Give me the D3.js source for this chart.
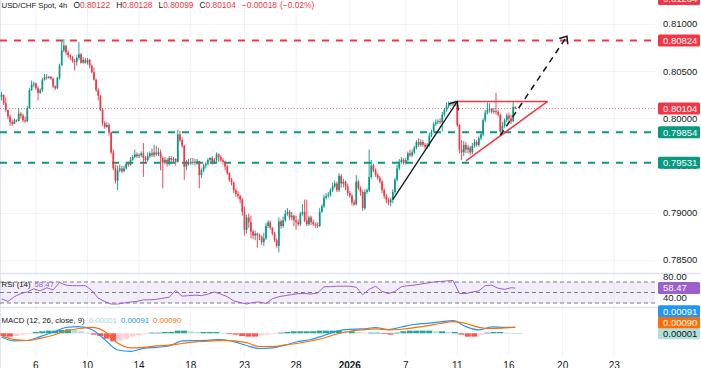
<!DOCTYPE html>
<html>
<head>
<meta charset="utf-8">
<script src="https://cdn.jsdelivr.net/npm/d3@7"></script>
<style>
  body { margin: 0; background: #fff; overflow: hidden; }
  text { font-family: "Liberation Sans", Arial, sans-serif; }
</style>
</head>
<body>
<div id="chart"></div>
<script>
// USD/CHF 4h candles with RSI and MACD panes

// ---- data ----
var firstOpen = 0.8023;
var closes = [
  .8025,.8016,.8009,.8002,.7996,.7994,.7998,.7997,.8005,.8003,
  .7998,.7997,.8011,.8030,.8036,.8037,.8032,.8027,.8030,.8041,
  .8044,.8043,.8044,.8042,.8034,.8032,.8043,.8056,.8072,.8077,
  .8070,.8067,.8065,.8061,.8060,.8064,.8068,.8059,.8062,.8059,
  .8062,.8056,.8049,.8041,.8030,.8024,.8009,.7995,.7991,.7993,
  .7985,.7964,.7947,.7934,.7945,.7947,.7944,.7947,.7952,.7951,
  .7956,.7959,.7962,.7960,.7961,.7963,.7958,.7956,.7960,.7963,
  .7961,.7964,.7962,.7964,.7958,.7953,.7956,.7952,.7958,.7956,
  .7957,.7954,.7983,.7977,.7971,.7949,.7953,.7952,.7954,.7953,
  .7954,.7955,.7940,.7945,.7950,.7952,.7956,.7958,.7953,.7956,
  .7962,.7959,.7956,.7954,.7949,.7942,.7935,.7932,.7924,.7920,
  .7918,.7914,.7901,.7882,.7895,.7890,.7880,.7876,.7878,.7876,
  .7875,.7869,.7873,.7886,.7890,.7884,.7878,.7871,.7865,.7891,
  .7886,.7892,.7899,.7901,.7895,.7897,.7892,.7890,.7888,.7899,
  .7901,.7892,.7888,.7895,.7890,.7888,.7887,.7886,.7901,.7907,
  .7916,.7918,.7919,.7924,.7928,.7931,.7924,.7939,.7931,.7933,
  .7928,.7921,.7918,.7911,.7909,.7933,.7926,.7922,.7905,.7922,
  .7924,.7938,.7950,.7945,.7940,.7937,.7933,.7924,.7918,.7914,
  .7911,.7914,.7922,.7935,.7947,.7954,.7956,.7953,.7956,.7963,
  .7961,.7964,.7969,.7975,.7972,.7975,.7972,.7970,.7972,.7982,
  .7986,.7994,.7996,.7997,.7996,.8004,.8009,.8013,.8015,.8016,
  .8015,.8016,.7993,.7967,.7964,.7972,.7967,.7969,.7964,.7971,
  .7975,.7972,.7979,.7983,.7998,.8006,.8009,.8010,.8007,.8008,
  .8007,.8004,.7986,.7992,.7998,.8003,.8000,.7997,.80122,.80104
];
var highs = [
  .8028,.8025,.8022,.8009,.8004,.7999,.8000,.7999,.8010,.8007,
  .8005,.8002,.8013,.8032,.8040,.8039,.8038,.8034,.8032,.8043,
  .8047,.8047,.8045,.8045,.8043,.8035,.8044,.8058,.8083,.8084,
  .8078,.8072,.8068,.8066,.8063,.8067,.8081,.8069,.8065,.8064,
  .8064,.8063,.8057,.8054,.8042,.8032,.8025,.8011,.7997,.7996,
  .7995,.7986,.7967,.7951,.7950,.7951,.7950,.7950,.7954,.7954,
  .7959,.7961,.7967,.7964,.7963,.7965,.7974,.7960,.7964,.7965,
  .7968,.7972,.7971,.7969,.7967,.7960,.7959,.7958,.7960,.7960,
  .7959,.7958,.7988,.7987,.7980,.7972,.7956,.7957,.7958,.7958,
  .7957,.7957,.7955,.7947,.7952,.7954,.7958,.7959,.7960,.7958,
  .7964,.7963,.7961,.7958,.7955,.7951,.7943,.7937,.7933,.7926,
  .7923,.7919,.7916,.7907,.7898,.7899,.7897,.7882,.7881,.7879,
  .7878,.7876,.7879,.7889,.7892,.7892,.7885,.7880,.7873,.7895,
  .7893,.7896,.7903,.7905,.7903,.7901,.7898,.7897,.7893,.7901,
  .7909,.7914,.7914,.7897,.7897,.7893,.7890,.7890,.7905,.7909,
  .7919,.7921,.7922,.7926,.7932,.7934,.7933,.7942,.7941,.7936,
  .7934,.7931,.7923,.7920,.7914,.7940,.7935,.7928,.7924,.7925,
  .7926,.7967,.7956,.7952,.7947,.7942,.7939,.7935,.7926,.7920,
  .7916,.7916,.7925,.7937,.7951,.7957,.7959,.7958,.7958,.7965,
  .7967,.7967,.7971,.7977,.7979,.7978,.7977,.7974,.7974,.7985,
  .7988,.7996,.7999,.7999,.8000,.8007,.8011,.8017,.8018,.8018,
  .8018,.8019,.8018,.7994,.7977,.7976,.7975,.7972,.7971,.7974,
  .7978,.7977,.7981,.7986,.8000,.8009,.8017,.8016,.8011,.8011,
  .8027,.8009,.8005,.7996,.8000,.8005,.8006,.8004,.8017,.80128
];
var lows = [
  .8019,.8014,.8007,.7999,.7992,.7992,.7994,.7996,.7997,.8000,
  .7996,.7995,.7996,.8010,.8029,.8033,.8030,.8019,.8026,.8028,
  .8040,.8041,.8042,.8041,.8032,.8030,.8031,.8041,.8056,.8070,
  .8067,.8064,.8062,.8059,.8051,.8056,.8062,.8058,.8058,.8058,
  .8057,.8053,.8048,.8040,.8028,.8019,.8008,.7992,.7989,.7990,
  .7982,.7962,.7945,.7931,.7924,.7943,.7942,.7943,.7946,.7949,
  .7950,.7955,.7958,.7958,.7958,.7959,.7938,.7952,.7954,.7958,
  .7959,.7959,.7960,.7960,.7945,.7926,.7951,.7949,.7950,.7954,
  .7953,.7950,.7953,.7975,.7969,.7935,.7945,.7950,.7951,.7951,
  .7950,.7951,.7926,.7937,.7943,.7947,.7950,.7954,.7951,.7952,
  .7953,.7954,.7954,.7951,.7945,.7940,.7933,.7929,.7921,.7917,
  .7915,.7910,.7897,.7876,.7878,.7884,.7873,.7872,.7871,.7863,
  .7871,.7866,.7865,.7871,.7884,.7882,.7876,.7869,.7863,.7858,
  .7883,.7884,.7890,.7897,.7892,.7892,.7886,.7882,.7886,.7886,
  .7897,.7890,.7886,.7886,.7887,.7886,.7884,.7884,.7885,.7900,
  .7905,.7914,.7916,.7917,.7922,.7926,.7922,.7922,.7926,.7927,
  .7924,.7918,.7916,.7908,.7907,.7908,.7924,.7918,.7902,.7903,
  .7920,.7922,.7936,.7943,.7938,.7935,.7931,.7921,.7915,.7910,
  .7908,.7907,.7910,.7920,.7933,.7945,.7952,.7951,.7951,.7954,
  .7959,.7959,.7962,.7967,.7970,.7970,.7970,.7968,.7968,.7970,
  .7980,.7985,.7992,.7994,.7994,.7986,.8002,.8007,.8011,.8013,
  .8013,.8013,.7991,.7963,.7956,.7960,.7963,.7963,.7961,.7962,
  .7969,.7970,.7970,.7977,.7981,.7996,.8004,.8006,.8005,.8005,
  .8004,.8002,.7982,.7983,.7990,.7996,.7997,.7994,.7996,.80099
];

// RSI(14), one reading every 3 bars, last one on the final bar
var rsiStep = 3;
var rsi = [
  38,33,42,48,51,57,53,59,55,69, 64,63,63,63,54,39,33,28,28,30,
  32,33,36,36,37,39,41,54,43,44, 45,44,47,51,47,42,34,31,28,31,
  32,29,38,42,44,46,48,48,47,49, 61,61,62,62,62,60,46,56,62,52,
  48,52,61,63,64,66,68,70,71,72, 73,48,48,51,53,63,64,58,56,59, 58.47
];

// MACD(12,26,9), one reading every 6 bars, last one on the final bar
var macdStep = 6;
var macdLine = [
  -0.00055,-0.00115,-0.00108,-0.0005,0.00015,0.00087,0.0010,0.00057,-0.00093,-0.0025,
  -0.0027,-0.00225,-0.0021,-0.0019,-0.00115,-0.0011,-0.00105,-0.00093,-0.00126,-0.00183,
  -0.00228,-0.0022,-0.00175,-0.00123,-0.00093,-0.00033,0.00035,0.0006,0.00065,0.00087,
  0.00057,0.00095,0.00132,0.0015,0.0017,0.0019,0.0010,0.0005,0.00095,0.0009,0.00091
];
var signalLine = [
  -0.00033,-0.00096,-0.00108,-0.00075,-0.00029,0.00035,0.00072,0.00089,0.00027,-0.00146,
  -0.00218,-0.0021,-0.0019,-0.00176,-0.00153,-0.0013,-0.00119,-0.00105,-0.00113,-0.00141,
  -0.00198,-0.00198,-0.00175,-0.00149,-0.00115,-0.0007,-0.0001,0.00031,0.00052,0.00065,
  0.00052,0.00061,0.00085,0.00112,0.00147,0.00174,0.00147,0.0009,0.00072,0.0008,0.0009
];
// histogram, one reading every 3 bars
var histStep = 3;
var histogram = [
  -0.0004,-0.0005,-0.0004,-0.0002,-0.0001,0.0002,0.0003,0.0004,0.0004,0.0005,
  0.0006,0.0005,0.0003,0.0001,-0.0002,-0.0004,-0.0008,-0.0012,-0.0011,-0.0008,
  -0.0005,-0.0003,-0.0001,0.0001,0.0001,0.0002,0.0002,0.0004,0.0004,0.0003,
  0.0002,0.0002,0.0002,0.0002,0.0001,-0.0001,-0.0002,-0.0004,-0.0005,-0.0005,
  -0.0003,-0.0002,-0.0001,0.0001,0.0002,0.0003,0.0003,0.0003,0.0003,0.0004,
  0.0004,0.0004,0.0004,0.0003,0.0003,0.0002,0.0001,0.0001,0.0001,-0.0001,
  -0.0002,0.0001,0.0003,0.0004,0.0004,0.0004,0.0004,0.0003,0.0003,0.0002,
  0.0002,-0.0002,-0.0005,-0.0005,-0.0003,0.0001,0.0002,0.0002,0.0001,0.00005,0.00001
];

// x axis
var tickBars = [16, 40, 64, 88, 113, 137, 162, 188, 212, 236, 261, 285];
var tickLabels = ['6', '10', '14', '18', '23', '28', '2026', '7', '11', '16', '20', '23'];
var priceTicks = [0.785, 0.79, 0.795, 0.80, 0.805, 0.81];
var rsiTicks = [80, 40];

// horizontal levels
var resistanceLevels = [0.81264, 0.80824];
var supportLevels = [0.79854, 0.79531];
var lastPrice = 0.80104;

// drawings: [bar, price]
var trendArrow = [[182, 0.7914], [212, 0.8018]];
var projectionArrow = [[232, 0.7982], [263, 0.8087]];
var triangleTop = [[212, 0.8018], [254, 0.8018]];
var triangleBottom = [[216, 0.7955], [254, 0.8018]];

// ---- layout ----
var W = 701, H = 368;
var plotRight = 655;
var panes = {
  main: { top: 0, bottom: 273 },
  rsi: { top: 274, bottom: 307 },
  macd: { top: 308, bottom: 357 }
};
var UP = '#089981', DOWN = '#f23645';
var RSI_COLOR = '#9c5fd0';

var x = d3.scaleLinear().domain([0, 300]).range([1.5, 646.5]);
var y = d3.scaleLinear().domain([0.785, 0.81]).range([260, 24]);
var yRsi = d3.scaleLinear().domain([30, 70]).range([303, 282]);
var yMacd = d3.scaleLinear().domain([-0.003, 0.003]).range([353.3, 313.3]);

var svg = d3.select('#chart').append('svg')
  .attr('width', W)
  .attr('height', H);

var defs = svg.append('defs');
Object.keys(panes).forEach(function(k) {
  defs.append('clipPath').attr('id', 'clip-' + k)
    .append('rect')
      .attr('x', 0).attr('y', panes[k].top)
      .attr('width', plotRight).attr('height', panes[k].bottom - panes[k].top);
});

// grid
var grid = svg.append('g');
grid.selectAll('line.v')
  .data(tickBars).enter()
  .append('line')
    .attr('x1', function(d) { return x(d); })
    .attr('x2', function(d) { return x(d); })
    .attr('y1', 0).attr('y2', panes.macd.bottom)
    .attr('stroke', '#f0f3fa');
grid.selectAll('line.h')
  .data(priceTicks).enter()
  .append('line')
    .attr('x1', 0).attr('x2', plotRight)
    .attr('y1', function(d) { return Math.round(y(d)) + 0.5; })
    .attr('y2', function(d) { return Math.round(y(d)) + 0.5; })
    .attr('stroke', '#f0f3fa');

// pane separators and left border
[panes.main.bottom + 0.5, panes.rsi.bottom + 0.5].forEach(function(v) {
  svg.append('line')
    .attr('x1', 0).attr('x2', W).attr('y1', v).attr('y2', v)
    .attr('stroke', '#e0e3eb').attr('stroke-width', 1.5);
});
svg.append('line')
  .attr('x1', 0.5).attr('x2', 0.5).attr('y1', 0).attr('y2', H)
  .attr('stroke', '#dde6f2');

// ---- main pane ----
var main = svg.append('g').attr('clip-path', 'url(#clip-main)');

// level lines
main.selectAll('line.res')
  .data(resistanceLevels).enter()
  .append('line')
    .attr('x1', 0).attr('x2', plotRight)
    .attr('y1', function(d) { return y(d); })
    .attr('y2', function(d) { return y(d); })
    .attr('stroke', DOWN).attr('stroke-width', 2)
    .attr('stroke-dasharray', '7,7');
main.selectAll('line.sup')
  .data(supportLevels).enter()
  .append('line')
    .attr('x1', 0).attr('x2', plotRight)
    .attr('y1', function(d) { return y(d); })
    .attr('y2', function(d) { return y(d); })
    .attr('stroke', UP).attr('stroke-width', 2)
    .attr('stroke-dasharray', '7,7');
main.append('line')
  .attr('x1', 0).attr('x2', plotRight)
  .attr('y1', y(lastPrice)).attr('y2', y(lastPrice))
  .attr('stroke', DOWN).attr('stroke-width', 1)
  .attr('stroke-dasharray', '1,2').attr('opacity', 0.7);

// candles
var candles = closes.map(function(c, i) {
  return { i: i, o: i === 0 ? firstOpen : closes[i - 1], h: highs[i], l: lows[i], c: c };
});
var cg = main.selectAll('g.candle')
  .data(candles).enter()
  .append('g')
    .attr('fill', function(d) { return d.c >= d.o ? UP : DOWN; })
    .attr('stroke', function(d) { return d.c >= d.o ? UP : DOWN; });
cg.append('line')
  .attr('x1', function(d) { return x(d.i); })
  .attr('x2', function(d) { return x(d.i); })
  .attr('y1', function(d) { return y(Math.max(d.h, d.o, d.c)); })
  .attr('y2', function(d) { return y(Math.min(d.l, d.o, d.c)); })
  .attr('stroke-width', 0.9);
cg.append('rect')
  .attr('stroke', 'none')
  .attr('x', function(d) { return x(d.i) - 0.85; })
  .attr('width', 1.7)
  .attr('y', function(d) { return y(Math.max(d.o, d.c)); })
  .attr('height', function(d) { return Math.max(1, Math.abs(y(d.o) - y(d.c))); });

// drawings
function pt(p) { return [x(p[0]), y(p[1])]; }
function arrowHead(a, b, len) {
  var ang = Math.atan2(a[1] - b[1], a[0] - b[0]);
  var r = 40 * Math.PI / 180;
  return 'M' + (b[0] + len * Math.cos(ang + r)) + ',' + (b[1] + len * Math.sin(ang + r)) +
    'L' + b[0] + ',' + b[1] +
    'L' + (b[0] + len * Math.cos(ang - r)) + ',' + (b[1] + len * Math.sin(ang - r));
}
var line = d3.line();
[triangleTop, triangleBottom].forEach(function(seg) {
  main.append('path')
    .attr('d', line(seg.map(pt)))
    .attr('fill', 'none').attr('stroke', DOWN).attr('stroke-width', 1.5);
});
var ta = trendArrow.map(pt);
main.append('path').attr('d', line(ta))
  .attr('fill', 'none').attr('stroke', '#131722').attr('stroke-width', 1.3);
main.append('path').attr('d', arrowHead(ta[0], ta[1], 9))
  .attr('fill', 'none').attr('stroke', '#131722').attr('stroke-width', 1.3);
var pa = projectionArrow.map(pt);
main.append('path').attr('d', line(pa))
  .attr('fill', 'none').attr('stroke', '#131722').attr('stroke-width', 1.5)
  .attr('stroke-dasharray', '6,5');
main.append('path').attr('d', arrowHead(pa[0], pa[1], 8))
  .attr('fill', 'none').attr('stroke', '#131722').attr('stroke-width', 1.5);

// ---- RSI pane ----
var rsiG = svg.append('g').attr('clip-path', 'url(#clip-rsi)');
rsiG.append('rect')
  .attr('x', 0).attr('width', plotRight)
  .attr('y', yRsi(70)).attr('height', yRsi(30) - yRsi(70))
  .attr('fill', '#7e57c2').attr('fill-opacity', 0.1);
rsiG.selectAll('line.band')
  .data([70, 50, 30]).enter()
  .append('line')
    .attr('x1', 0).attr('x2', plotRight)
    .attr('y1', function(d) { return yRsi(d); })
    .attr('y2', function(d) { return yRsi(d); })
    .attr('stroke', '#787b86').attr('stroke-dasharray', '4,3');
rsiG.append('path')
  .datum(rsi)
  .attr('d', d3.line()
    .x(function(d, k) { return x(Math.min(k * rsiStep, closes.length - 1)); })
    .y(function(d) { return yRsi(d); }))
  .attr('fill', 'none').attr('stroke', RSI_COLOR).attr('stroke-width', 1);

// ---- MACD pane ----
var macdG = svg.append('g').attr('clip-path', 'url(#clip-macd)');
macdG.selectAll('rect.hist')
  .data(histogram).enter()
  .append('rect')
    .attr('x', function(d, k) { return x(k * histStep) - 1; })
    .attr('width', x(histStep) - x(0) - 0.5)
    .attr('y', function(d) { return Math.min(yMacd(d), yMacd(0)); })
    .attr('height', function(d) { return Math.max(0.8, Math.abs(yMacd(d) - yMacd(0))); })
    .attr('fill', function(d, k) {
      var prev = k > 0 ? histogram[k - 1] : d;
      if (d >= 0) return d >= prev ? '#26a69a' : '#b2dfdb';
      return d <= prev ? '#ff5252' : '#ffcdd2';
    });
var macdX = function(d, k) { return x(Math.min(k * macdStep, closes.length - 1)); };
macdG.append('path').datum(macdLine)
  .attr('d', d3.line().curve(d3.curveMonotoneX).x(macdX).y(function(d) { return yMacd(d); }))
  .attr('fill', 'none').attr('stroke', '#2196f3').attr('stroke-width', 1.2);
macdG.append('path').datum(signalLine)
  .attr('d', d3.line().curve(d3.curveMonotoneX).x(macdX).y(function(d) { return yMacd(d); }))
  .attr('fill', 'none').attr('stroke', '#ff6d00').attr('stroke-width', 1.2);

// ---- axes ----
svg.selectAll('text.date')
  .data(tickBars).enter()
  .append('text')
    .attr('x', function(d) { return x(d); })
    .attr('y', 368.5)
    .attr('text-anchor', 'middle')
    .attr('font-size', 10)
    .attr('font-weight', function(d, i) { return tickLabels[i] === '2026' ? 'bold' : 'normal'; })
    .attr('fill', '#131722')
    .text(function(d, i) { return tickLabels[i]; });

var axisG = svg.append('g');
axisG.selectAll('text.price')
  .data(priceTicks).enter()
  .append('text')
    .attr('x', 663)
    .attr('y', function(d) { return y(d); })
    .attr('dy', '0.35em')
    .attr('font-size', 9.5)
    .attr('fill', '#131722')
    .text(function(d) { return d3.format('.5f')(d); });
axisG.selectAll('text.rsi')
  .data(rsiTicks).enter()
  .append('text')
    .attr('x', 663)
    .attr('y', function(d) { return yRsi(d); })
    .attr('dy', '0.35em')
    .attr('font-size', 9.5)
    .attr('fill', '#131722')
    .text(function(d) { return d3.format('.2f')(d); });

function tag(v, yPos, bg, fg, fmt) {
  var g = axisG.append('g').attr('transform', 'translate(658,' + yPos + ')');
  g.append('rect').attr('x', 0).attr('y', -6).attr('width', 42).attr('height', 12)
    .attr('rx', 1.5).attr('fill', bg);
  g.append('text').attr('x', 5).attr('dy', '0.35em').attr('font-size', 9.5)
    .attr('fill', fg).text(d3.format(fmt)(v));
}
resistanceLevels.forEach(function(v) { tag(v, y(v), DOWN, '#fff', '.5f'); });
supportLevels.forEach(function(v) { tag(v, y(v), UP, '#fff', '.5f'); });
tag(lastPrice, y(lastPrice), DOWN, '#fff', '.5f');
tag(rsi[rsi.length - 1], yRsi(rsi[rsi.length - 1]), RSI_COLOR, '#fff', '.2f');

// MACD tags stacked upward from the lowest value
var histLast = histogram[histogram.length - 1];
var macdTags = [
  { v: histLast, bg: '#b2dfdb', fg: '#131722' },
  { v: signalLine[signalLine.length - 1], bg: '#ff6d00', fg: '#fff' },
  { v: macdLine[macdLine.length - 1], bg: '#2196f3', fg: '#fff' }
];
var prevY = Infinity;
macdTags.forEach(function(t) {
  var ty = Math.min(yMacd(t.v), prevY - 11);
  tag(t.v, ty, t.bg, t.fg, '.5f');
  prevY = ty;
});

// ---- legends (text flows left to right: [text, colour, gap, size]) ----
function legend(yPos, parts) {
  var t = svg.append('text').attr('x', 1.5).attr('y', yPos).attr('dy', '0.35em')
    .attr('font-size', 7.8);
  parts.forEach(function(p, i) {
    t.append('tspan').attr('dx', i === 0 ? 0 : p[2]).attr('fill', p[1])
      .attr('font-size', p[3] || null).text(p[0]);
  });
}
legend(5, [
  ['USD/CHF Spot, 4h', '#131722', 0],
  ['O', '#131722', 6, 8.4], ['0.80122', DOWN, 0, 8.4],
  ['H', '#131722', 6, 8.4], ['0.80128', DOWN, 0, 8.4],
  ['L', '#131722', 6, 8.4], ['0.80099', DOWN, 0, 8.4],
  ['C', '#131722', 6, 8.4], ['0.80104', DOWN, 0, 8.4],
  ['\u22120.00018', DOWN, 6, 8.4], ['(\u22120.02%)', DOWN, 3, 8.4]
]);
legend(284, [['RSI (14)', '#131722', 0], ['58.47', RSI_COLOR, 4]]);
legend(320, [
  ['MACD (12, 26, close, 9)', '#131722', 0],
  ['0.00001', '#9fd8cd', 4], ['0.00091', '#2196f3', 4], ['0.00090', '#ff6d00', 4]
]);
</script>
</body>
</html>
